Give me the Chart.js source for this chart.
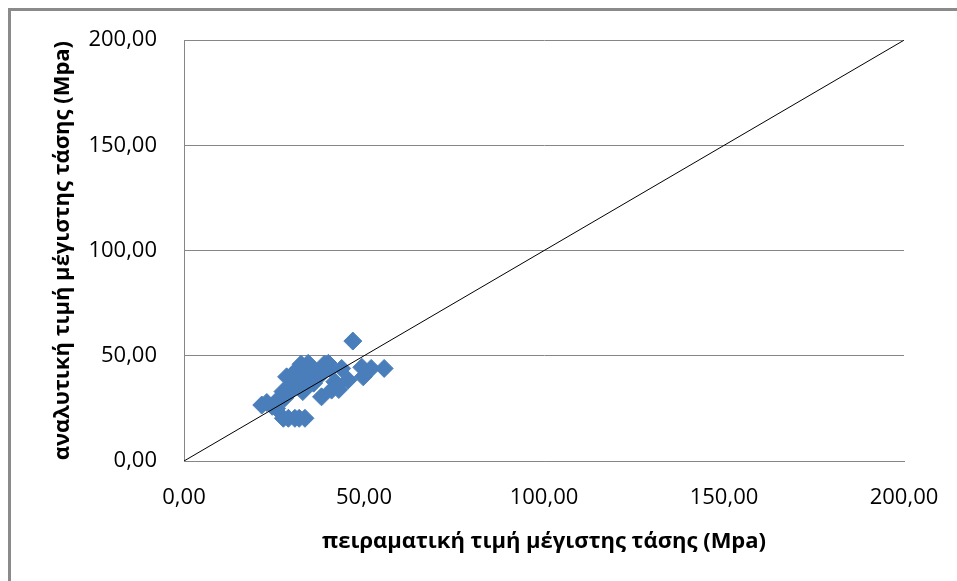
<!DOCTYPE html>
<html>
<head>
<meta charset="utf-8">
<script src="https://cdn.jsdelivr.net/npm/chart.js@4"></script>
<style>
  html, body { margin: 0; padding: 0; background: #fff; }
  #wrap { position: relative; width: 957px; height: 581px; }
  #frame {
    position: absolute; left: 8px; top: 8px; right: -4px; bottom: -4px;
    border-left: 3px solid #8a8a8a; border-top: 3px solid #8a8a8a;
  }
  canvas { position: absolute; left: 0; top: 0; }
</style>
</head>
<body>
<div id="wrap">
  <div id="frame"></div>
  <canvas id="chart" width="957" height="581"></canvas>
</div>
<script>
// experimental vs analytical peak stress (MPa)
const experimental = [
  21.6, 23.0, 24.5, 25.7, 26.0, 27.1, 28.0, 27.5, 29.0, 29.9,
  29.0, 28.5, 30.0, 31.0, 31.8, 32.5, 32.0, 33.0, 34.0, 34.5,
  35.0, 35.5, 36.0, 34.0, 33.0, 37.0, 38.0, 38.2, 39.0, 40.1,
  40.5, 41.0, 41.9, 42.5, 43.0, 43.8, 45.6, 46.9, 49.4, 49.8,
  52.0, 55.6, 27.6, 29.0, 30.8, 32.0, 33.6
];
const analytical = [
  26.6, 27.8, 26.0, 25.0, 29.0, 30.5, 30.0, 33.0, 32.0, 39.3,
  35.0, 40.0, 41.0, 36.0, 44.0, 46.0, 40.0, 38.0, 42.0, 46.4,
  44.0, 40.0, 37.0, 35.0, 33.0, 42.0, 41.0, 30.5, 46.0, 46.4,
  44.0, 33.7, 37.7, 36.0, 34.0, 44.0, 38.5, 57.0, 44.5, 40.0,
  44.0, 44.0, 20.3, 20.3, 20.3, 20.3, 20.3
];
// y = x reference line
const lineX = [0, 200];
const lineY = [0, 200];

const points = experimental.map((x, i) => ({ x: x, y: analytical[i] }));
const diagonal = lineX.map((x, i) => ({ x: x, y: lineY[i] }));

const fmt = v => v.toFixed(2).replace('.', ',');
const tickFont = { family: '"Open Sans", sans-serif', size: 22 };
const titleFont = { family: '"Open Sans", sans-serif', size: 22, weight: 'bold' };

new Chart(document.getElementById('chart').getContext('2d'), {
  type: 'scatter',
  data: {
    datasets: [
      {
        type: 'line',
        data: diagonal,
        borderColor: '#000',
        borderWidth: 1,
        pointRadius: 0,
        fill: false
      },
      {
        data: points,
        pointStyle: 'rectRot',
        pointRadius: 9,
        backgroundColor: '#4a7ebb',
        borderColor: '#4a7ebb',
        borderWidth: 1
      }
    ]
  },
  options: {
    responsive: false,
    animation: false,
    layout: { padding: { left: 50, top: 40, right: 53, bottom: 26 } },
    plugins: { legend: { display: false }, tooltip: { enabled: false } },
    scales: {
      x: {
        type: 'linear',
        min: 0,
        max: 200,
        ticks: { stepSize: 50, callback: fmt, font: tickFont, color: '#000', padding: 24, maxRotation: 0 },
        grid: { display: false, drawTicks: false },
        border: { display: true, color: '#868686', width: 1 },
        title: { display: true, text: 'πειραματική τιμή μέγιστης τάσης (Mpa)', font: titleFont, color: '#000', padding: { top: 10, bottom: 0 } },
        afterFit: s => {
          s.height = 581 - 26 - 461;
          // let the end labels overhang the plot edges
          s.paddingLeft = 0;
          s.paddingRight = 0;
        }
      },
      y: {
        min: 0,
        max: 200,
        ticks: { stepSize: 50, callback: fmt, font: tickFont, color: '#000', padding: 27 },
        grid: { color: '#868686', lineWidth: 1, drawTicks: false },
        border: { display: true, color: '#868686', width: 1 },
        title: { display: true, text: 'αναλυτική τιμή μέγιστης τάσης (Mpa)', font: titleFont, color: '#000', padding: { top: 0, bottom: 0 } },
        afterFit: s => { s.width = 184 - 50; }
      }
    }
  }
});
</script>
</body>
</html>
